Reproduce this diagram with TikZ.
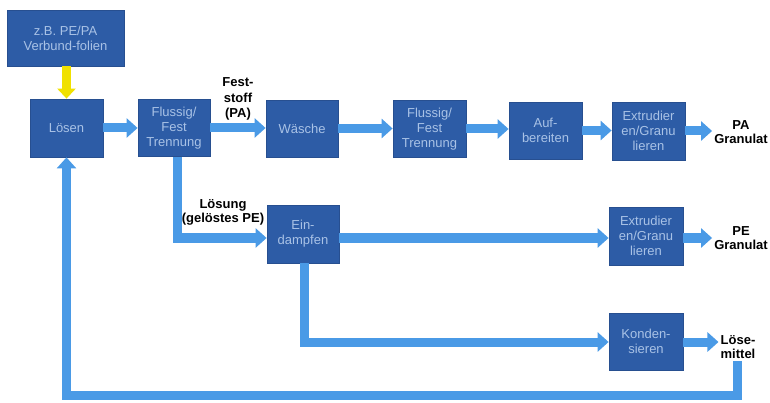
\documentclass[tikz,border=0pt]{standalone}
\usepackage{fontspec}
\setmainfont{Liberation Sans}
\usetikzlibrary{arrows.meta,calc}
\definecolor{boxfill}{HTML}{2D5CA6}
\definecolor{boxline}{HTML}{274F90}
\definecolor{boxtext}{HTML}{A9C2E6}
\definecolor{flowc}{HTML}{4A9AE6}
\definecolor{feedc}{HTML}{F0E100}
\tikzset{
  box/.style={draw=boxline, line width=0.8pt, fill=boxfill, text=boxtext, align=center,
    inner sep=0pt, minimum width=73pt, minimum height=57pt,
    font=\fontsize{13}{15}\selectfont},
  lbl/.style={align=center, inner sep=2pt, font=\fontsize{13}{14}\selectfont\bfseries},
  flow/.style={draw=flowc, line width=9pt, -{Triangle[length=11pt,width=19pt]}},
  feed/.style={draw=feedc, line width=9pt, -{Triangle[length=10pt,width=18pt]}},
}
\begin{document}
\begin{tikzpicture}[x=1pt,y=-1pt]
\useasboundingbox (0,0) rectangle (770,403);
% boxes
\node[box, minimum width=117pt, minimum height=56pt] (top) at (65.5,38) {z.B. PE/PA\\Verbund-folien};
\node[box, minimum height=58pt] (losen) at (66.5,128) {Lösen};
\node[box, minimum width=72pt] (fft1) at (174,128) {Flussig/\\Fest\\Trennung};
\node[box, minimum width=72pt] (wasche) at (302,128.5) {Wäsche};
\node[box] (fft2) at (429.5,129) {Flussig/\\Fest\\Trennung};
\node[box] (auf) at (545.5,130.5) {Auf-\\bereiten};
\node[box, minimum height=58pt] (ex1) at (648.5,131) {Extrudier\\en/Granu\\lieren};
\node[box, minimum width=72pt, minimum height=58pt] (eind) at (303,234) {Ein-\\dampfen};
\node[box, minimum width=74pt, minimum height=58pt] (ex2) at (646,236) {Extrudier\\en/Granu\\lieren};
\node[box, minimum width=74pt] (kond) at (646,341.5) {Konden-\\sieren};
% labels
\node[lbl, font=\fontsize{13}{15.5}\selectfont\bfseries] (fest) at (238,99) {Fest-\\stoff\\(PA)};
\node[lbl] (losung) at (223,212) {Lösung\\(gelöstes PE)};
\node[lbl] (pa) at (741,132) {PA\\Granulat};
\node[lbl] (pe) at (741,238.5) {PE\\Granulat};
\node[lbl] (lm) at (738,347) {Löse-\\mittel};
% coordinates
\coordinate (c1) at (177,238);
\coordinate (c2) at (304,342);
\coordinate (r1) at (737,395);
% connectors
\draw[feed] (losen.north |- top.south) -- (losen.north);
\draw[flow] (losen.east) -- (losen.east -| fft1.west);
\draw[flow] (fft1.east) -- (fft1.east -| wasche.west);
\draw[flow] (wasche.east) -- (wasche.east -| fft2.west);
\draw[flow] (fft2.east) -- (fft2.east -| auf.west);
\draw[flow] (auf.east) -- (auf.east -| ex1.west);
\draw[flow] (ex1.east) -- (ex1.east -| pa.west);
\draw[flow] (c1 |- fft1.south) -- (c1) -- (c1 -| eind.west);
\draw[flow] (eind.east |- c1) -- (c1 -| ex2.west);
\draw[flow] (ex2.east |- c1) -- (c1 -| pe.west);
\draw[flow] (c2 |- eind.south) -- (c2) -- (c2 -| kond.west);
\draw[flow] (kond.east |- c2) -- (c2 -| lm.west);
\draw[flow] (r1 |- lm.south) -- (r1) -| (losen.south);
\end{tikzpicture}
\end{document}
